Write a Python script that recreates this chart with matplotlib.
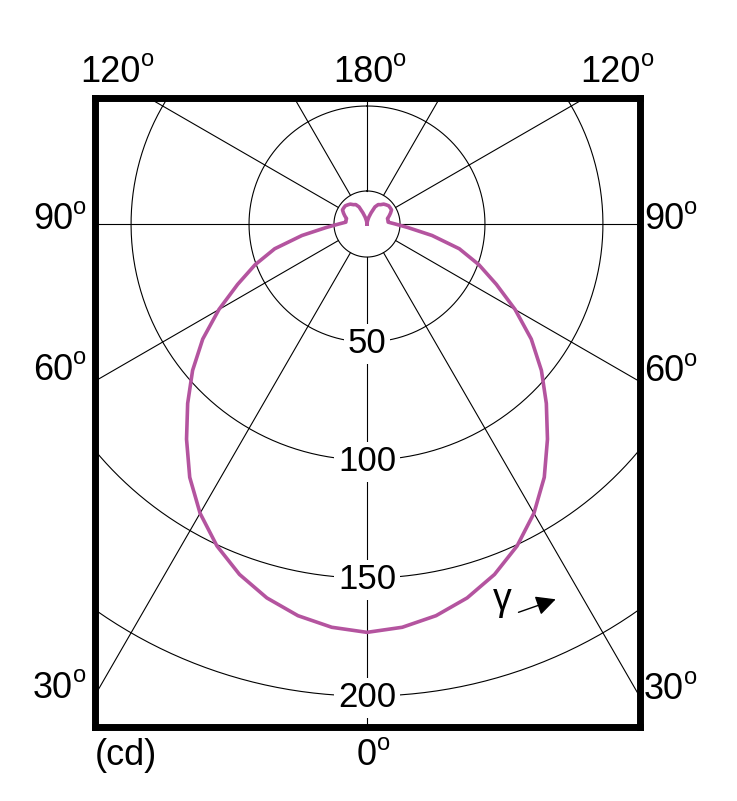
import numpy as np
import matplotlib.pyplot as plt

plt.rcParams['font.family'] = ['Liberation Sans', 'DejaVu Sans']

# luminous intensity (cd) against gamma angle (deg from nadir), mirrored on both sides
gamma_deg = [0, 5, 10, 15, 20, 25, 30, 35, 40, 45, 50, 55, 60, 65, 70, 75, 80, 85,
             90, 95, 100, 105, 110, 115, 120, 125, 130, 135, 140, 145, 150, 155,
             160, 165, 170, 175, 180]
intensity_cd = [173, 171.5, 168.5, 164, 158, 150.5, 141.5, 131, 119, 107.5, 96.5,
                85, 72.5, 60.5, 50.5, 40.5, 28, 17.5, 12, 9, 9, 9, 10, 11, 12, 12,
                12, 11.5, 11, 10, 9.5, 8, 5, 3, 1.5, 0.5, 0]

ring_values = [50, 100, 150, 200]
inner_ring = 14
ray_angles = np.arange(0, 360, 30)

top_labels = ["120", "180", "120"]
left_labels = ["90", "60", "30"]
right_labels = ["90", "60", "30"]
bottom_label = "0"
unit_label = "(cd)"

W, H = 737, 801
fig = plt.figure(figsize=(W / 100, H / 100), dpi=100)
ax = fig.add_axes([94.5 / W, 1 - 727 / H, 545 / W, 629.5 / H])
ax.set_xlim(-115.5, 115.5)
ax.set_ylim(-213.1, 53.6)
ax.set_xticks([])
ax.set_yticks([])
for s in ax.spines.values():
    s.set_linewidth(5)
    s.set_color('black')
    s.set_zorder(10)

# polar grid
t = np.linspace(0, 2 * np.pi, 721)
for r in [inner_ring] + ring_values:
    ax.plot(r * np.sin(t), r * np.cos(t), color='black', lw=0.8, zorder=1)
for a in np.radians(ray_angles):
    ax.plot([inner_ring * np.sin(a), 400 * np.sin(a)],
            [-inner_ring * np.cos(a), -400 * np.cos(a)],
            color='black', lw=0.8, zorder=1)

# intensity curve
g = np.radians(gamma_deg)
I = np.array(intensity_cd)
theta = np.r_[-g[::-1], g[1:]]
rr = np.r_[I[::-1], I[1:]]
ax.plot(rr * np.sin(theta), -rr * np.cos(theta), color='#b4549f', lw=2.6,
        zorder=3, solid_joinstyle='round')

for r in ring_values:
    ax.text(0, -r - 4.7, str(r), ha='center', va='baseline', fontsize=25,
            bbox=dict(boxstyle='square,pad=0.1', fc='white', ec='none'), zorder=4)

# gamma arrow
ax.text(53.3, -163.6, 'γ', ha='left', va='baseline', fontsize=27)
ax.annotate('', xy=(81.1, -158.6), xytext=(63.1, -164.9),
            arrowprops=dict(arrowstyle='-|>', color='black', lw=1, mutation_scale=30))


def deg_label(txt, xs, base):
    fig.text(xs / W, 1 - base / H, txt, ha='right', va='baseline', fontsize=26)
    fig.text(xs / W, 1 - (base - 15.5) / H, 'o', ha='left', va='baseline', fontsize=17)


for txt, xs in zip(top_labels, [141, 393, 641]):
    deg_label(txt, xs, 82)
for txt, base in zip(left_labels, [229, 380, 698]):
    deg_label(txt, 73, base)
for txt, base in zip(right_labels, [229, 381, 699]):
    deg_label(txt, 684, base)
deg_label(bottom_label, 377, 765)
fig.text(95 / W, 1 - 765 / H, unit_label, ha='left', va='baseline', fontsize=26)

fig.savefig('out.png', dpi=100, facecolor='white')
